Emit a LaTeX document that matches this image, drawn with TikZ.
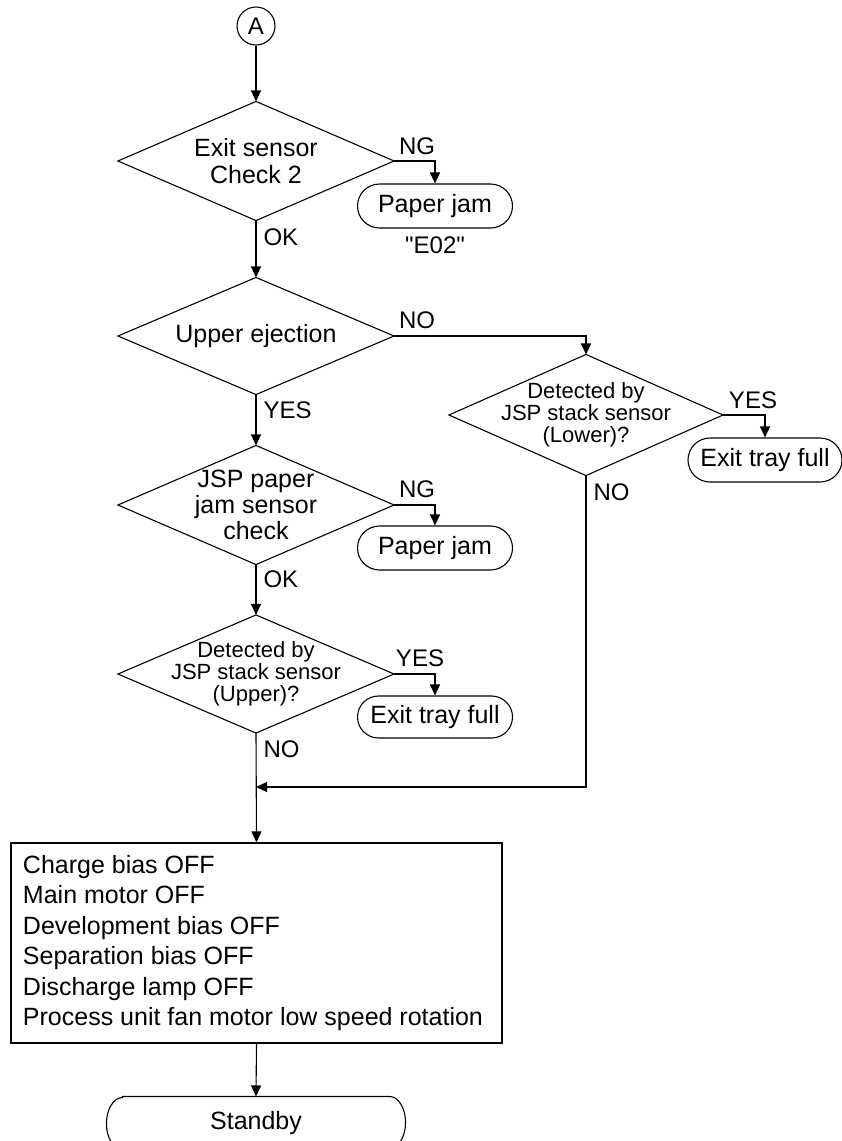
\documentclass[tikz,border=0pt]{standalone}
\usepackage{fontspec}
\setmainfont{Liberation Sans}
\newfontfamily\plainsans{Liberation Sans}
\usetikzlibrary{positioning,arrows.meta,shapes.misc}

\tikzset{
  conn/.style={circle, draw, minimum size=38pt, inner sep=0pt, font=\fontsize{24}{28}\selectfont},
  decision/.style={rectangle, minimum width=275pt, minimum height=118pt, inner sep=0pt, align=center, font=\fontsize{25}{29}\selectfont},
  smalldecision/.style={decision, font=\fontsize{22}{22}\selectfont},
  term/.style={rounded rectangle, draw, minimum width=155pt, minimum height=44pt, inner sep=0pt, font=\fontsize{25}{29}\selectfont},
  lbl/.style={inner sep=0pt, font=\fontsize{24}{28}\selectfont},
  actionbox/.style={rectangle, draw, text width=467pt, align=left, inner xsep=12pt, inner ysep=0pt, minimum height=200pt, font=\fontsize{25}{30.4}\selectfont}
}

\begin{document}
\begin{tikzpicture}[x=1pt, y=1pt, line width=1.1pt, >={Triangle[length=11pt,width=10pt]}]
  \useasboundingbox (0,0) rectangle (842,-1141);

  \node[conn] (A) at (256,-26) {A};
  \node[decision] (exit) at (256,-161) {\raisebox{-3pt}{\shortstack{Exit sensor\\[5pt]Check 2}}};
  \node[term] (jam1) at (435,-206) {Paper jam};
  \node[lbl, font=\fontsize{24}{28}\plainsans] (e02) at (435,-245) {"E02"};

  \node[decision, minimum height=116pt] (upper) at (256,-336) {Upper ejection};
  \node[smalldecision, minimum width=273pt, minimum height=120pt] (stacklo) at (586,-415) {Detected by\\JSP stack sensor\\(Lower)?};
  \node[term, minimum width=154pt] (full1) at (765,-460) {Exit tray full};

  \node[decision, font=\fontsize{25}{25.5}\selectfont] (jam) at (256,-505) {\raisebox{-5pt}{\shortstack{JSP paper\\jam sensor\\check}}};
  \node[term] (jam2) at (435,-548) {Paper jam};

  \node[smalldecision, minimum height=117pt] (stackup) at (256,-674) {Detected by\\JSP stack sensor\\(Upper)?};
  \node[term, minimum height=42pt] (full2) at (435,-717) {Exit tray full};

  \coordinate (merge) at (256,-787);

  \node[actionbox] (off) at (256.5,-943) {\spaceskip=0pt\relax Charge bias OFF\\Main motor OFF\\Development bias OFF\\Separation bias OFF\\Discharge lamp OFF\\Process unit fan motor low speed rotation};
  \node[minimum width=298pt, minimum height=52pt, inner sep=0pt, font=\fontsize{25}{29}\selectfont] (sb) at (256,-1123) {Standby};

  % decision outlines
  \foreach \d in {exit,upper,jam,stackup,stacklo}
    \draw (\d.north) -- (\d.east) -- (\d.south) -- (\d.west) -- cycle;
  % standby outline
  \draw ([xshift=16pt]sb.north west) -- ([xshift=-16pt]sb.north east)
    arc[start angle=90, end angle=-90, x radius=16pt, y radius=26pt]
    -- ([xshift=16pt]sb.south west)
    arc[start angle=270, end angle=90, x radius=16pt, y radius=26pt] -- cycle;

  % flow
  \draw[->] (A) -- (exit.north);
  \draw[->] (exit.east) -| (jam1.north);
  \draw[->] (exit.south) -- (upper.north);
  \draw[->] (upper.east) -| (stacklo.north);
  \draw[->] (stacklo.east) -| (full1.north);
  \draw[->] (upper.south) -- (jam.north);
  \draw[->] (jam.east) -| (jam2.north);
  \draw[->] (jam.south) -- (stackup.north);
  \draw[->] (stackup.east) -| (full2.north);
  \draw[->] (stacklo.south) |- (merge);
  \draw[->] (stackup.south) -- (off.north);
  \draw[->] (off.south) -- (sb.north);

  % branch labels
  \node[lbl] (ng1) at (417,-146) {NG};
  \node[lbl, anchor=west] (ok1) at (263,-237) {OK};
  \node[lbl] (no1) at (417,-320) {NO};
  \node[lbl, anchor=west] (yes1) at (263,-410) {YES};
  \node[lbl] (yes2) at (753,-400) {YES};
  \node[lbl, anchor=west] (no2) at (593,-492) {NO};
  \node[lbl] (ng2) at (417,-489) {NG};
  \node[lbl, anchor=west] (ok2) at (263,-579) {OK};
  \node[lbl] (yes3) at (420,-658) {YES};
  \node[lbl, anchor=west] (no3) at (263,-749) {NO};
\end{tikzpicture}
\end{document}
